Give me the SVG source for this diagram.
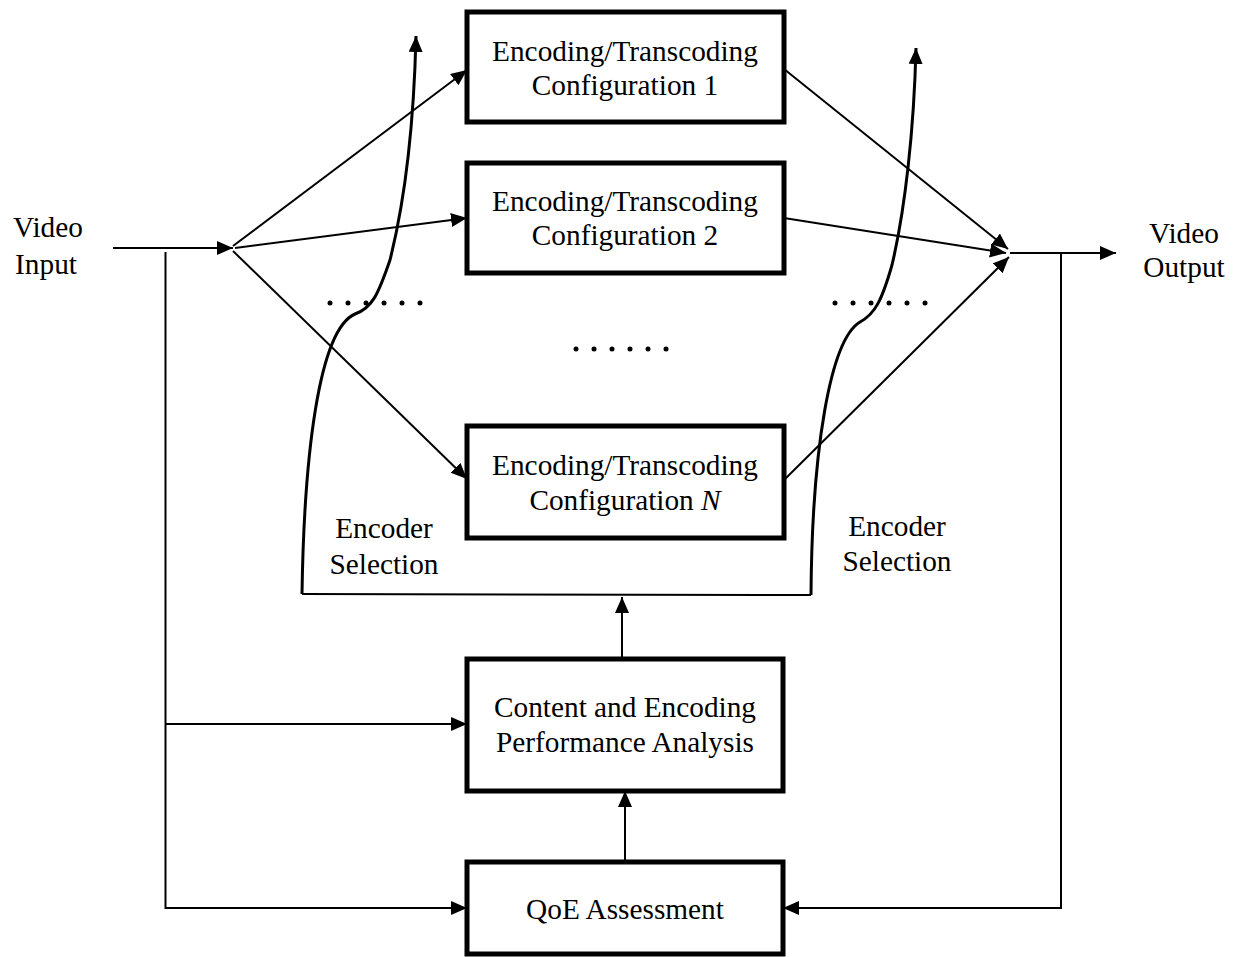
<svg xmlns="http://www.w3.org/2000/svg" width="1236" height="957" viewBox="0 0 1236 957">
<style>
.box{fill:#fff;stroke:#000;stroke-width:5}
.t{font-family:"Liberation Serif","Times New Roman",serif;font-size:29.3px;fill:#000;text-anchor:middle}
.ln{fill:none;stroke:#000;stroke-width:2}
.cv{fill:none;stroke:#000;stroke-width:3}
.dot{fill:#000}
</style>
<defs>
<marker id="ah" markerUnits="userSpaceOnUse" markerWidth="17" markerHeight="15" refX="16" refY="7" orient="auto">
<path d="M0,0 L16,7 L0,14 z" fill="#000"/>
</marker>
</defs>
<rect width="1236" height="957" fill="#fff"/>
<g id="connectors">
<line class="ln" x1="113" y1="248" x2="233" y2="248" marker-end="url(#ah)"/>
<line class="ln" x1="233" y1="246" x2="467" y2="70" marker-end="url(#ah)"/>
<line class="ln" x1="235" y1="248" x2="467" y2="218" marker-end="url(#ah)"/>
<line class="ln" x1="233" y1="251" x2="467" y2="479" marker-end="url(#ah)"/>
<line class="ln" x1="784" y1="69" x2="1008" y2="249" marker-end="url(#ah)"/>
<line class="ln" x1="784" y1="218" x2="1006" y2="253" marker-end="url(#ah)"/>
<line class="ln" x1="784" y1="480" x2="1009" y2="257" marker-end="url(#ah)"/>
<line class="ln" x1="1010" y1="253" x2="1116" y2="253" marker-end="url(#ah)"/>
<polyline class="ln" points="165.5,252 165.5,908 467,908" marker-end="url(#ah)"/>
<line class="ln" x1="165.5" y1="724" x2="467" y2="724" marker-end="url(#ah)"/>
<polyline class="ln" points="1061,253 1061,908 783,908" marker-end="url(#ah)"/>
<line class="ln" x1="622" y1="659" x2="622" y2="597" marker-end="url(#ah)"/>
<line class="ln" x1="625" y1="862" x2="625" y2="791" marker-end="url(#ah)"/>
<polyline class="ln" points="302,594 811,595"/>
<path class="cv" d="M302,594 C304,460 318,330 355,314 C372,308 378,295 390,260 C405,200 414,120 416,36" marker-end="url(#ah)"/>
<path class="cv" d="M811,595 C812,450 830,340 860,322 C875,314 882,300 892,265 C905,210 914,130 916,48" marker-end="url(#ah)"/>
</g>
<g id="dots-left"><circle class="dot" cx="330" cy="303" r="2.5"/><circle class="dot" cx="348" cy="303" r="2.5"/><circle class="dot" cx="366" cy="303" r="2.5"/><circle class="dot" cx="384" cy="303" r="2.5"/><circle class="dot" cx="402" cy="303" r="2.5"/><circle class="dot" cx="420" cy="303" r="2.5"/></g>
<g id="dots-right"><circle class="dot" cx="835" cy="303" r="2.5"/><circle class="dot" cx="853" cy="303" r="2.5"/><circle class="dot" cx="871" cy="303" r="2.5"/><circle class="dot" cx="889" cy="303" r="2.5"/><circle class="dot" cx="907" cy="303" r="2.5"/><circle class="dot" cx="925" cy="303" r="2.5"/></g>
<g id="dots-mid"><circle class="dot" cx="576" cy="349" r="2.5"/><circle class="dot" cx="594" cy="349" r="2.5"/><circle class="dot" cx="612" cy="349" r="2.5"/><circle class="dot" cx="630" cy="349" r="2.5"/><circle class="dot" cx="648" cy="349" r="2.5"/><circle class="dot" cx="666" cy="349" r="2.5"/></g>
<g id="config1"><rect class="box" x="467" y="12" width="317" height="110"/><text class="t" x="625" y="61">Encoding/Transcoding</text><text class="t" x="625" y="95">Configuration 1</text></g>
<g id="config2"><rect class="box" x="467" y="163" width="317" height="110"/><text class="t" x="625" y="211">Encoding/Transcoding</text><text class="t" x="625" y="245">Configuration 2</text></g>
<g id="configN"><rect class="box" x="467" y="426" width="317" height="112"/><text class="t" x="625" y="475">Encoding/Transcoding</text><text class="t" x="625" y="510">Configuration <tspan font-style="italic">N</tspan></text></g>
<g id="analysis"><rect class="box" x="467" y="659" width="316" height="132"/><text class="t" x="625" y="717">Content and Encoding</text><text class="t" x="625" y="752">Performance Analysis</text></g>
<g id="qoe"><rect class="box" x="467" y="862" width="316" height="92"/><text class="t" x="625" y="919">QoE Assessment</text></g>
<g id="video-input"><text class="t" x="48" y="237">Video</text><text class="t" x="46" y="274">Input</text></g>
<g id="video-output"><text class="t" x="1184" y="243">Video</text><text class="t" x="1184" y="277">Output</text></g>
<g id="sel-left"><text class="t" x="384" y="538">Encoder</text><text class="t" x="384" y="574">Selection</text></g>
<g id="sel-right"><text class="t" x="897" y="536">Encoder</text><text class="t" x="897" y="571">Selection</text></g>
</svg>
